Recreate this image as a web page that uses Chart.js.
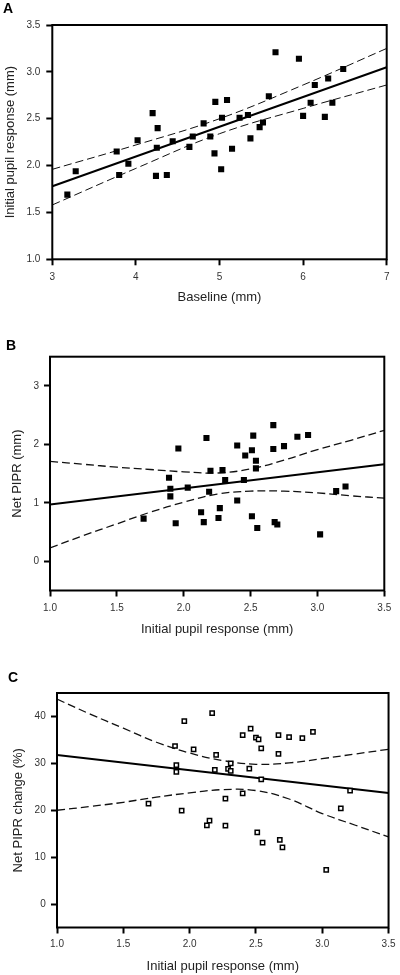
<!DOCTYPE html>
<html>
<head>
<meta charset="utf-8">
<script src="https://cdn.jsdelivr.net/npm/chart.js@4.4.1/dist/chart.umd.min.js"></script>
<style>
  body { margin: 0; background: #fff; width: 400px; height: 975px; position: relative; overflow: hidden; }
  canvas { position: absolute; left: 0; }
  .tag { position: absolute; font: bold 14px/16px "Liberation Sans", Arial, sans-serif; color: #000; z-index: 2; }
</style>
</head>
<body>
<canvas id="chartA" width="400" height="315" style="top:0px"></canvas>
<canvas id="chartB" width="400" height="325" style="top:315px"></canvas>
<canvas id="chartC" width="400" height="335" style="top:640px"></canvas>
<div class="tag" style="left:3px;top:0px">A</div>
<div class="tag" style="left:6px;top:337px">B</div>
<div class="tag" style="left:8px;top:669px">C</div>
<script>
const FONT = "'Liberation Sans', Arial, sans-serif";

// Panel A: baseline vs initial pupil response
const baselineA = [3.18, 3.28, 3.77, 3.80, 3.91, 4.02, 4.20, 4.26, 4.25, 4.24, 4.37, 4.44, 4.64, 4.68, 4.81, 4.89, 4.94, 4.95, 5.02, 5.03, 5.09, 5.15, 5.24, 5.34, 5.37, 5.48, 5.52, 5.59, 5.67, 5.95, 6.00, 6.09, 6.14, 6.26, 6.30, 6.35, 6.48];
const initialA = [1.69, 1.94, 2.15, 1.90, 2.02, 2.27, 2.56, 2.40, 2.19, 1.89, 1.90, 2.26, 2.20, 2.31, 2.45, 2.31, 2.13, 2.68, 1.96, 2.51, 2.70, 2.18, 2.51, 2.54, 2.29, 2.41, 2.46, 2.74, 3.21, 3.14, 2.53, 2.67, 2.86, 2.52, 2.93, 2.67, 3.03];
const fitXA = [3, 7];
const fitYA = [1.78, 3.05];
const ciXA = [3, 4, 5, 6, 7];
const upperA = [1.96, 2.22, 2.50, 2.86, 3.25];
const lowerA = [1.58, 1.97, 2.34, 2.61, 2.86];
const xTicksA = [3, 4, 5, 6, 7];
const yTicksA = [1.0, 1.5, 2.0, 2.5, 3.0, 3.5];

// Panel B: initial pupil response vs net PIPR
const initialB = [1.70, 1.89, 1.90, 1.90, 1.94, 1.96, 2.03, 2.13, 2.15, 2.17, 2.19, 2.20, 2.26, 2.27, 2.29, 2.31, 2.40, 2.40, 2.45, 2.46, 2.51, 2.51, 2.52, 2.54, 2.54, 2.55, 2.67, 2.67, 2.68, 2.70, 2.75, 2.85, 2.93, 3.02, 3.14, 3.21];
const piprB = [0.73, 1.43, 1.24, 1.11, 0.65, 1.93, 1.26, 0.84, 0.67, 2.11, 1.19, 1.55, 0.74, 0.91, 1.56, 1.39, 1.04, 1.98, 1.39, 1.81, 0.77, 1.90, 2.15, 1.72, 1.59, 0.57, 2.33, 1.92, 0.67, 0.63, 1.97, 2.13, 2.16, 0.46, 1.20, 1.28];
const fitXB = [1.0, 3.5];
const fitYB = [0.97, 1.66];
const ciXB = [1.0, 1.25, 1.5, 1.75, 2.0, 2.25, 2.5, 2.75, 3.0, 3.25, 3.5];
const upperB = [1.71, 1.66, 1.61, 1.57, 1.53, 1.51, 1.58, 1.73, 1.91, 2.07, 2.24];
const lowerB = [0.23, 0.44, 0.64, 0.84, 1.01, 1.15, 1.20, 1.20, 1.17, 1.12, 1.08];
const xTicksB = [1.0, 1.5, 2.0, 2.5, 3.0, 3.5];
const yTicksB = [0, 1, 2, 3];

// Panel C: initial pupil response vs net PIPR change (%)
const initialC = [1.69, 1.89, 1.90, 1.90, 1.94, 1.96, 2.03, 2.13, 2.15, 2.17, 2.19, 2.20, 2.27, 2.27, 2.29, 2.31, 2.31, 2.40, 2.40, 2.45, 2.46, 2.51, 2.50, 2.52, 2.54, 2.54, 2.55, 2.67, 2.67, 2.68, 2.70, 2.75, 2.85, 2.93, 3.03, 3.14, 3.21];
const changeC = [21.4, 33.7, 29.6, 28.2, 19.9, 39.0, 33.0, 16.8, 17.8, 40.7, 28.6, 31.8, 16.7, 22.5, 28.8, 30.0, 28.4, 36.0, 23.6, 28.9, 37.4, 15.3, 35.5, 35.1, 33.2, 26.6, 13.1, 36.0, 32.0, 13.7, 12.1, 35.6, 35.4, 36.7, 7.3, 20.4, 24.2];
const fitXC = [1.0, 3.5];
const fitYC = [31.8, 23.7];
const ciXC = [1.0, 1.25, 1.5, 1.75, 2.0, 2.25, 2.5, 2.75, 3.0, 3.25, 3.5];
const upperC = [43.7, 40.5, 37.5, 34.5, 32.2, 30.6, 29.8, 30.1, 31.0, 32.0, 33.0];
const lowerC = [20.0, 20.8, 21.7, 22.8, 23.7, 24.4, 24.2, 22.4, 19.3, 16.8, 14.3];
const xTicksC = [1.0, 1.5, 2.0, 2.5, 3.0, 3.5];
const yTicksC = [0, 10, 20, 30, 40];

Chart.defaults.font.family = FONT;

function pts(xs, ys) {
  return xs.map((x, i) => ({ x: x, y: ys[i] }));
}

// top + right edges of the box (left/bottom come from the axes)
const boxPlugin = {
  id: "box",
  afterDraw(chart) {
    const { ctx, chartArea: a } = chart;
    ctx.save();
    ctx.strokeStyle = "#000";
    ctx.lineWidth = 2;
    ctx.strokeRect(a.left, a.top, a.right - a.left, a.bottom - a.top);
    ctx.restore();
  },
};

function xAxis(min, max, tickVals, dec, text, h, tickPad, titlePad) {
  return {
    type: "linear", position: "bottom", min: min, max: max,
    afterBuildTicks: (s) => { s.ticks = tickVals.map((v) => ({ value: v })); },
    afterFit: (s) => { s.height = h; },
    ticks: { autoSkip: false, maxRotation: 0, padding: tickPad, color: "#333", font: { size: 10 }, callback: (v) => Number(v).toFixed(dec) },
    grid: { drawOnChartArea: false, drawTicks: true, tickLength: 6, tickWidth: 2, tickColor: "#000" },
    border: { display: false },
    title: { display: true, text: text, color: "#222", font: { size: 13 }, padding: { top: 0, bottom: titlePad } },
  };
}

function yAxis(min, max, tickVals, dec, text, w, tickPad, titlePad) {
  return {
    type: "linear", position: "left", min: min, max: max,
    afterBuildTicks: (s) => { s.ticks = tickVals.map((v) => ({ value: v })); },
    afterFit: (s) => { s.width = w; },
    ticks: { autoSkip: false, padding: tickPad, color: "#333", font: { size: 10 }, callback: (v) => Number(v).toFixed(dec) },
    grid: { drawOnChartArea: false, drawTicks: true, tickLength: 6, tickWidth: 2, tickColor: "#000" },
    border: { display: false },
    title: { display: true, text: text, color: "#222", font: { size: 13 }, padding: { top: titlePad, bottom: 0 } },
  };
}

function datasets(xs, ys, fitX, fitY, ciX, up, lo, hollow, dashW, fitW) {
  const dash = { showLine: true, pointRadius: 0, borderColor: "#111", borderWidth: dashW, borderDash: [8, 4], tension: 0.4, order: 2 };
  return [
    {
      data: pts(xs, ys), pointStyle: "rect", order: 0,
      pointRadius: hollow ? 3 : 4.3,
      backgroundColor: hollow ? "#fff" : "#000",
      borderColor: "#000",
      borderWidth: hollow ? 1.5 : 0,
    },
    { data: pts(fitX, fitY), showLine: true, pointRadius: 0, borderColor: "#000", borderWidth: fitW, order: 1 },
    Object.assign({ data: pts(ciX, up) }, dash),
    Object.assign({ data: pts(ciX, lo) }, dash),
  ];
}

function common(padding, scales) {
  return {
    responsive: false, animation: false, devicePixelRatio: 1,
    layout: { padding: padding },
    plugins: { legend: { display: false }, tooltip: { enabled: false } },
    scales: scales,
  };
}

const chartA = new Chart(document.getElementById("chartA").getContext("2d"), {
  type: "scatter",
  data: { datasets: datasets(baselineA, initialA, fitXA, fitYA, ciXA, upperA, lowerA, false, 1, 2.2) },
  plugins: [boxPlugin],
  options: common({ left: 0, top: 25, right: 13.3, bottom: 5.7 }, {
    x: xAxis(3, 7, xTicksA, 0, "Baseline (mm)", 50, 5.7, 4.5),
    y: yAxis(1, 3.5, yTicksA, 1, "Initial pupil response (mm)", 52.3, 6, 2.2),
  }),
});

const chartB = new Chart(document.getElementById("chartB").getContext("2d"), {
  type: "scatter",
  data: { datasets: datasets(initialB, piprB, fitXB, fitYB, ciXB, upperB, lowerB, false, 1.3, 2) },
  plugins: [boxPlugin],
  options: common({ left: 0, top: 41.7, right: 15.7, bottom: 2.5 }, {
    x: xAxis(1, 3.5, xTicksB, 1, "Initial pupil response (mm)", 47, 5.5, 0),
    y: yAxis(-0.5, 3.5, yTicksB, 0, "Net PIPR (mm)", 50, 5, 9.7),
  }),
});

const chartC = new Chart(document.getElementById("chartC").getContext("2d"), {
  type: "scatter",
  data: { datasets: datasets(initialC, changeC, fitXC, fitYC, ciXC, upperC, lowerC, true, 1.3, 2) },
  plugins: [boxPlugin],
  options: common({ left: 0, top: 53, right: 9.3, bottom: 0 }, {
    x: xAxis(1, 3.5, xTicksC, 1, "Initial pupil response (mm)", 47.5, 4.5, 1.2),
    y: yAxis(-5, 45, yTicksC, 0, "Net PIPR change (%)", 57, 5.3, 10.2),
  }),
});
</script>
</body>
</html>
